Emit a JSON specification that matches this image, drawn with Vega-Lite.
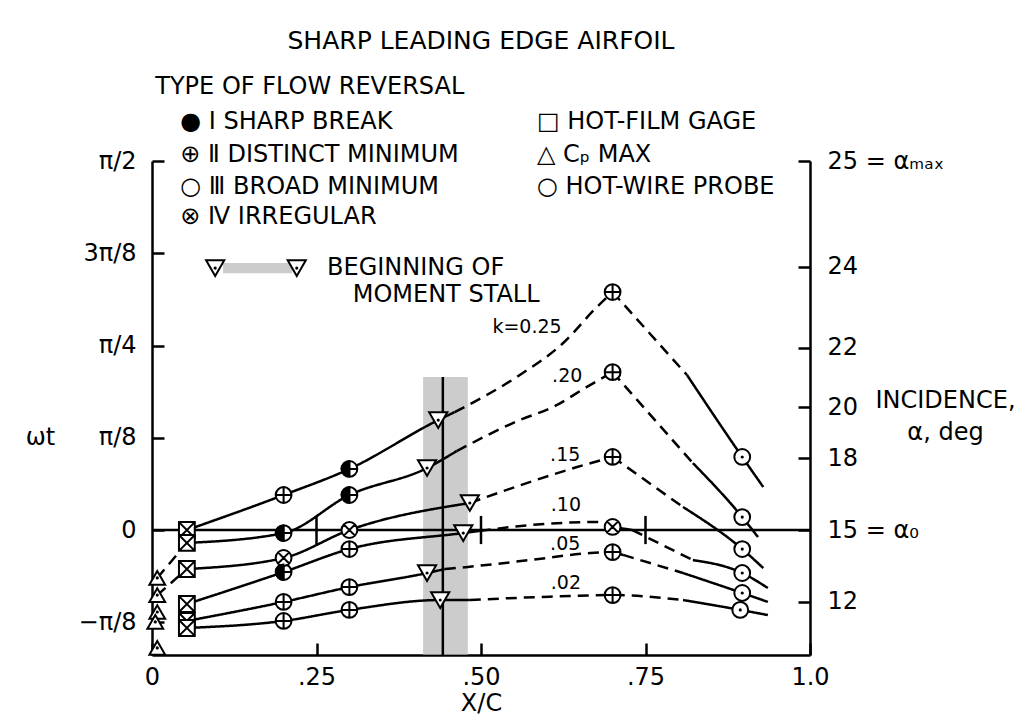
{
  "$schema": "https://vega.github.io/schema/vega-lite/v6.json",
  "width": 658,
  "height": 494,
  "autosize": {"type": "none"},
  "padding": {"left": 152, "top": 161, "right": 215, "bottom": 68},
  "config": {
    "font": "DejaVu Sans",
    "view": {"stroke": null},
    "axis": {
      "grid": false,
      "domainColor": "black",
      "tickColor": "black",
      "labelColor": "black",
      "titleColor": "black",
      "domainWidth": 2.5,
      "tickWidth": 2.5,
      "labelFontSize": 24,
      "titleFontSize": 24,
      "titleFontWeight": "normal",
      "labelFont": "DejaVu Sans",
      "titleFont": "DejaVu Sans"
    }
  },
  "title": {
    "text": "SHARP LEADING EDGE AIRFOIL",
    "fontSize": 25,
    "fontWeight": "normal",
    "color": "black",
    "offset": 21,
    "anchor": "middle"
  },
  "datasets": {
    "bands": [
      {"x": 0.412, "x2": 0.48, "y": 0.651, "y2": -0.532},
      {"x": 0.108, "x2": 0.213, "y": 1.137, "y2": 1.093}
    ],
    "hlines": [
      {"x": 0, "x2": 1, "y": 0}
    ],
    "vlines": [
      {"x": 0.442, "y": 0.651, "y2": -0.532},
      {"x": 0.25, "y": 0.06, "y2": -0.06},
      {"x": 0.5, "y": 0.06, "y2": -0.06},
      {"x": 0.75, "y": 0.06, "y2": -0.06}
    ],
    "curves": [
      {"seg": "25a", "style": "solid", "x": 0.053, "y": 0},
      {"seg": "25a", "style": "solid", "x": 0.2, "y": 0.149},
      {"seg": "25a", "style": "solid", "x": 0.3, "y": 0.26},
      {"seg": "25a", "style": "solid", "x": 0.435, "y": 0.468},
      {"seg": "25a", "style": "solid", "x": 0.46, "y": 0.502},
      {"seg": "25b", "style": "dashed", "x": 0.46, "y": 0.502},
      {"seg": "25b", "style": "dashed", "x": 0.559, "y": 0.66},
      {"seg": "25b", "style": "dashed", "x": 0.625, "y": 0.796},
      {"seg": "25b", "style": "dashed", "x": 0.676, "y": 0.949},
      {"seg": "25b", "style": "dashed", "x": 0.7, "y": 1.013},
      {"seg": "25c", "style": "dashed", "x": 0.7, "y": 1.013},
      {"seg": "25c", "style": "dashed", "x": 0.813, "y": 0.66},
      {"seg": "25d", "style": "solid", "x": 0.813, "y": 0.66},
      {"seg": "25d", "style": "solid", "x": 0.897, "y": 0.311},
      {"seg": "25d", "style": "solid", "x": 0.929, "y": 0.183},
      {"seg": "20a", "style": "solid", "x": 0.053, "y": -0.055},
      {"seg": "20a", "style": "solid", "x": 0.2, "y": -0.013},
      {"seg": "20a", "style": "solid", "x": 0.3, "y": 0.149},
      {"seg": "20a", "style": "solid", "x": 0.418, "y": 0.264},
      {"seg": "20a", "style": "solid", "x": 0.463, "y": 0.336},
      {"seg": "20b", "style": "dashed", "x": 0.463, "y": 0.336},
      {"seg": "20b", "style": "dashed", "x": 0.559, "y": 0.468},
      {"seg": "20b", "style": "dashed", "x": 0.609, "y": 0.523},
      {"seg": "20b", "style": "dashed", "x": 0.661, "y": 0.609},
      {"seg": "20b", "style": "dashed", "x": 0.7, "y": 0.672},
      {"seg": "20c", "style": "dashed", "x": 0.7, "y": 0.672},
      {"seg": "20c", "style": "dashed", "x": 0.822, "y": 0.285},
      {"seg": "20d", "style": "solid", "x": 0.822, "y": 0.285},
      {"seg": "20d", "style": "solid", "x": 0.897, "y": 0.055},
      {"seg": "20d", "style": "solid", "x": 0.921, "y": -0.03},
      {"seg": "15a", "style": "solid", "x": 0.053, "y": -0.166},
      {"seg": "15a", "style": "solid", "x": 0.2, "y": -0.119},
      {"seg": "15a", "style": "solid", "x": 0.3, "y": 0.0},
      {"seg": "15a", "style": "solid", "x": 0.483, "y": 0.115},
      {"seg": "15b", "style": "dashed", "x": 0.483, "y": 0.115},
      {"seg": "15b", "style": "dashed", "x": 0.574, "y": 0.204},
      {"seg": "15b", "style": "dashed", "x": 0.646, "y": 0.268},
      {"seg": "15b", "style": "dashed", "x": 0.7, "y": 0.311},
      {"seg": "15c", "style": "dashed", "x": 0.7, "y": 0.311},
      {"seg": "15c", "style": "dashed", "x": 0.807, "y": 0.098},
      {"seg": "15d", "style": "solid", "x": 0.807, "y": 0.098},
      {"seg": "15d", "style": "solid", "x": 0.897, "y": -0.081},
      {"seg": "15d", "style": "solid", "x": 0.929, "y": -0.162},
      {"seg": "10a", "style": "solid", "x": 0.053, "y": -0.315},
      {"seg": "10a", "style": "solid", "x": 0.2, "y": -0.179},
      {"seg": "10a", "style": "solid", "x": 0.3, "y": -0.081},
      {"seg": "10a", "style": "solid", "x": 0.473, "y": -0.013},
      {"seg": "10a", "style": "solid", "x": 0.498, "y": -0.004},
      {"seg": "10b", "style": "dashed", "x": 0.498, "y": -0.004},
      {"seg": "10b", "style": "dashed", "x": 0.574, "y": 0.021},
      {"seg": "10b", "style": "dashed", "x": 0.676, "y": 0.034},
      {"seg": "10b", "style": "dashed", "x": 0.7, "y": 0.013},
      {"seg": "10c", "style": "solid", "x": 0.7, "y": 0.013},
      {"seg": "10c", "style": "solid", "x": 0.73, "y": 0.0},
      {"seg": "10d", "style": "dashed", "x": 0.73, "y": 0.0},
      {"seg": "10d", "style": "dashed", "x": 0.822, "y": -0.128},
      {"seg": "10e", "style": "solid", "x": 0.822, "y": -0.128},
      {"seg": "10e", "style": "solid", "x": 0.897, "y": -0.183},
      {"seg": "10e", "style": "solid", "x": 0.936, "y": -0.247},
      {"seg": "05a", "style": "solid", "x": 0.053, "y": -0.387},
      {"seg": "05a", "style": "solid", "x": 0.2, "y": -0.306},
      {"seg": "05a", "style": "solid", "x": 0.3, "y": -0.243},
      {"seg": "05a", "style": "solid", "x": 0.418, "y": -0.183},
      {"seg": "05a", "style": "solid", "x": 0.445, "y": -0.166},
      {"seg": "05b", "style": "dashed", "x": 0.445, "y": -0.166},
      {"seg": "05b", "style": "dashed", "x": 0.48, "y": -0.157},
      {"seg": "05b", "style": "dashed", "x": 0.574, "y": -0.128},
      {"seg": "05b", "style": "dashed", "x": 0.666, "y": -0.098},
      {"seg": "05b", "style": "dashed", "x": 0.7, "y": -0.094},
      {"seg": "05c", "style": "solid", "x": 0.7, "y": -0.094},
      {"seg": "05c", "style": "solid", "x": 0.716, "y": -0.106},
      {"seg": "05d", "style": "dashed", "x": 0.716, "y": -0.106},
      {"seg": "05d", "style": "dashed", "x": 0.807, "y": -0.183},
      {"seg": "05e", "style": "solid", "x": 0.807, "y": -0.183},
      {"seg": "05e", "style": "solid", "x": 0.897, "y": -0.268},
      {"seg": "05e", "style": "solid", "x": 0.936, "y": -0.306},
      {"seg": "02a", "style": "solid", "x": 0.053, "y": -0.417},
      {"seg": "02a", "style": "solid", "x": 0.2, "y": -0.387},
      {"seg": "02a", "style": "solid", "x": 0.3, "y": -0.34},
      {"seg": "02a", "style": "solid", "x": 0.438, "y": -0.298},
      {"seg": "02a", "style": "solid", "x": 0.483, "y": -0.298},
      {"seg": "02b", "style": "dashed", "x": 0.483, "y": -0.298},
      {"seg": "02b", "style": "dashed", "x": 0.59, "y": -0.285},
      {"seg": "02b", "style": "dashed", "x": 0.7, "y": -0.277},
      {"seg": "02b", "style": "dashed", "x": 0.807, "y": -0.298},
      {"seg": "02c", "style": "solid", "x": 0.807, "y": -0.298},
      {"seg": "02c", "style": "solid", "x": 0.894, "y": -0.34},
      {"seg": "02c", "style": "solid", "x": 0.936, "y": -0.362},
      {"seg": "t1", "style": "dashed", "x": 0.008, "y": -0.204},
      {"seg": "t1", "style": "dashed", "x": 0.053, "y": -0.055},
      {"seg": "t2", "style": "dashed", "x": 0.008, "y": -0.277},
      {"seg": "t2", "style": "dashed", "x": 0.053, "y": -0.166}
    ],
    "markers": [
      {"kind": "film", "x": 0.053, "y": 0},
      {"kind": "film", "x": 0.053, "y": -0.055},
      {"kind": "film", "x": 0.053, "y": -0.166},
      {"kind": "film", "x": 0.053, "y": -0.315},
      {"kind": "film", "x": 0.053, "y": -0.387},
      {"kind": "film", "x": 0.053, "y": -0.417},
      {"kind": "cpmax", "x": 0.008, "y": -0.204},
      {"kind": "cpmax", "x": 0.008, "y": -0.277},
      {"kind": "cpmax", "x": 0.008, "y": -0.349},
      {"kind": "cpmax", "x": 0.005, "y": -0.391},
      {"kind": "cpmax", "x": 0.008, "y": -0.502},
      {"kind": "distinct", "x": 0.2, "y": 0.149},
      {"kind": "distinct", "x": 0.3, "y": -0.081},
      {"kind": "distinct", "x": 0.2, "y": -0.306},
      {"kind": "distinct", "x": 0.3, "y": -0.243},
      {"kind": "distinct", "x": 0.2, "y": -0.387},
      {"kind": "distinct", "x": 0.3, "y": -0.34},
      {"kind": "distinct", "x": 0.7, "y": 1.013},
      {"kind": "distinct", "x": 0.7, "y": 0.672},
      {"kind": "distinct", "x": 0.7, "y": 0.311},
      {"kind": "distinct", "x": 0.7, "y": -0.094},
      {"kind": "distinct", "x": 0.7, "y": -0.277},
      {"kind": "half", "x": 0.3, "y": 0.26},
      {"kind": "half", "x": 0.2, "y": -0.013},
      {"kind": "half", "x": 0.3, "y": 0.149},
      {"kind": "half", "x": 0.2, "y": -0.179},
      {"kind": "irregular", "x": 0.2, "y": -0.119},
      {"kind": "irregular", "x": 0.3, "y": 0.0},
      {"kind": "irregular", "x": 0.7, "y": 0.013},
      {"kind": "wire", "x": 0.897, "y": 0.311},
      {"kind": "wire", "x": 0.897, "y": 0.055},
      {"kind": "wire", "x": 0.897, "y": -0.081},
      {"kind": "wire", "x": 0.897, "y": -0.183},
      {"kind": "wire", "x": 0.897, "y": -0.268},
      {"kind": "wire", "x": 0.894, "y": -0.34},
      {"kind": "stall", "x": 0.435, "y": 0.468},
      {"kind": "stall", "x": 0.418, "y": 0.264},
      {"kind": "stall", "x": 0.483, "y": 0.115},
      {"kind": "stall", "x": 0.473, "y": -0.013},
      {"kind": "stall", "x": 0.418, "y": -0.183},
      {"kind": "stall", "x": 0.438, "y": -0.298},
      {"kind": "stall", "x": 0.096, "y": 1.115},
      {"kind": "stall", "x": 0.22, "y": 1.115}
    ],
    "labels": [
      {"role": "legend", "text": "TYPE OF FLOW REVERSAL", "x": 0.005, "y": 1.885},
      {"role": "legend", "text": "● Ⅰ SHARP BREAK", "x": 0.043, "y": 1.736},
      {"role": "legend", "text": "⊕ Ⅱ DISTINCT  MINIMUM", "x": 0.043, "y": 1.596},
      {"role": "legend", "text": "○ Ⅲ BROAD MINIMUM", "x": 0.043, "y": 1.46},
      {"role": "legend", "text": "⊗ Ⅳ IRREGULAR", "x": 0.043, "y": 1.332},
      {"role": "legend", "text": "□ HOT-FILM GAGE", "x": 0.585, "y": 1.736},
      {"role": "legend", "text": "△ Cₚ MAX", "x": 0.585, "y": 1.596},
      {"role": "legend", "text": "○ HOT-WIRE PROBE", "x": 0.585, "y": 1.46},
      {"role": "legend", "text": "BEGINNING OF", "x": 0.266, "y": 1.115},
      {"role": "legend", "text": "MOMENT STALL", "x": 0.305, "y": 1.0},
      {"role": "k", "text": "k=0.25", "x": 0.57, "y": 0.864},
      {"role": "k", "text": ".20", "x": 0.631, "y": 0.655},
      {"role": "k", "text": ".15", "x": 0.628, "y": 0.319},
      {"role": "k", "text": ".10", "x": 0.629, "y": 0.106},
      {"role": "k", "text": ".05", "x": 0.628, "y": -0.06},
      {"role": "k", "text": ".02", "x": 0.629, "y": -0.226}
    ]
  },
  "encoding": {
    "x": {
      "field": "x",
      "type": "quantitative",
      "scale": {"domain": [0, 1], "nice": false, "zero": false},
      "axis": {
        "values": [0, 0.25, 0.5, 0.75, 1],
        "labelExpr": "datum.value == 0 ? '0' : datum.value == 1 ? '1.0' : datum.value == 0.25 ? '.25' : datum.value == 0.5 ? '.50' : '.75'",
        "tickSize": -12,
        "labelPadding": 22,
        "labelFlush": false,
        "labelOverlap": false,
        "title": "X/C",
        "titlePadding": 2
      }
    }
  },
  "resolve": {"scale": {"y": "independent"}},
  "layer": [
    {
      "data": {"name": "bands"},
      "mark": {"type": "rect", "fill": "#b0b0b0", "opacity": 0.65},
      "encoding": {
        "x2": {"field": "x2"},
        "y": {"field": "y", "type": "quantitative", "scale": {"domain": [-0.532, 1.5708], "nice": false, "zero": false}, "axis": null},
        "y2": {"field": "y2"}
      }
    },
    {
      "data": {"name": "hlines"},
      "mark": {"type": "rule", "color": "black", "strokeWidth": 2.5},
      "encoding": {
        "x2": {"field": "x2"},
        "y": {
          "field": "y",
          "type": "quantitative",
          "scale": {"domain": [-0.532, 1.5708], "nice": false, "zero": false},
          "axis": {
            "orient": "left",
            "values": [-0.392699, 0, 0.392699, 0.785398, 1.178097, 1.570796],
            "labelExpr": "datum.value < -0.3 ? '−π/8' : datum.value < 0.1 ? '0' : datum.value < 0.5 ? 'π/8' : datum.value < 0.9 ? 'π/4' : datum.value < 1.3 ? '3π/8' : 'π/2'",
            "tickSize": -12,
            "labelPadding": 28,
            "labelFlush": false,
            "labelOverlap": false,
            "title": "ωt",
            "titleAngle": 0,
            "titleX": -112,
            "titleY": 276,
            "titleAlign": "center",
            "titleBaseline": "middle"
          }
        }
      }
    },
    {
      "data": {"name": "vlines"},
      "mark": {"type": "rule", "color": "black", "strokeWidth": 2.5},
      "encoding": {
        "y": {"field": "y", "type": "quantitative", "scale": {"domain": [-0.532, 1.5708], "nice": false, "zero": false}, "axis": null},
        "y2": {"field": "y2"}
      }
    },
    {
      "data": {"name": "curves"},
      "mark": {"type": "line", "color": "black", "strokeWidth": 2.5, "interpolate": "monotone"},
      "encoding": {
        "y": {
          "field": "y",
          "type": "quantitative",
          "scale": {"domain": [-0.532, 1.5708], "nice": false, "zero": false},
          "axis": {
            "orient": "right",
            "values": [-0.304693, 0, 0.304693, 0.523599, 0.775397, 1.11977, 1.570796],
            "labelExpr": "datum.value < -0.2 ? '12' : datum.value < 0.1 ? '15  = α₀' : datum.value < 0.4 ? '18' : datum.value < 0.6 ? '20' : datum.value < 0.9 ? '22' : datum.value < 1.3 ? '24' : '25  = αₘₐₓ'",
            "tickSize": -12,
            "labelPadding": 29,
            "labelFlush": false,
            "labelOverlap": false,
            "title": ["INCIDENCE,", "α, deg"],
            "titleAngle": 0,
            "titleX": 135,
            "titleY": 239,
            "titleAlign": "center",
            "titleBaseline": "middle",
            "titleLineHeight": 32
          }
        },
        "detail": {"field": "seg", "type": "nominal"},
        "strokeDash": {"field": "style", "type": "nominal", "scale": {"domain": ["solid", "dashed"], "range": [[1, 0], [11, 7]]}, "legend": null}
      }
    },
    {
      "data": {"name": "markers"},
      "transform": [{"filter": "datum.kind != 'stall'"}],
      "mark": {"type": "point", "filled": true, "stroke": "black", "strokeWidth": 2, "size": 250, "opacity": 1},
      "encoding": {
        "y": {"field": "y", "type": "quantitative", "scale": {"domain": [-0.532, 1.5708], "nice": false, "zero": false}, "axis": null},
        "shape": {
          "field": "kind",
          "type": "nominal",
          "scale": {
            "domain": ["film", "distinct", "half", "irregular", "wire", "cpmax"],
            "range": [
              "M-1,-1H1V1H-1Z M-1,-1L1,1 M1,-1L-1,1",
              "M-1,0A1,1,0,1,0,1,0A1,1,0,1,0,-1,0Z M-1,0H1 M0,-1V1",
              "M-1,0A1,1,0,1,0,1,0A1,1,0,1,0,-1,0Z M-1,0H1 M0,-1V1",
              "M-1,0A1,1,0,1,0,1,0A1,1,0,1,0,-1,0Z M-0.707,-0.707L0.707,0.707 M0.707,-0.707L-0.707,0.707",
              "circle",
              "triangle-up"
            ]
          },
          "legend": null
        },
        "fill": {
          "field": "kind",
          "type": "nominal",
          "scale": {
            "domain": ["film", "distinct", "half", "irregular", "wire", "cpmax"],
            "range": ["white", "white", "white", "white", "white", "white"]
          },
          "legend": null
        }
      }
    },
    {
      "data": {"name": "markers"},
      "transform": [{"filter": "datum.kind == 'half'"}],
      "mark": {"type": "point", "shape": "M0,-1A1,1,0,0,0,0,1Z", "filled": true, "fill": "black", "stroke": "black", "strokeWidth": 1.5, "size": 250, "opacity": 1},
      "encoding": {
        "y": {"field": "y", "type": "quantitative", "scale": {"domain": [-0.532, 1.5708], "nice": false, "zero": false}, "axis": null}
      }
    },
    {
      "data": {"name": "markers"},
      "transform": [{"filter": "datum.kind == 'stall'"}],
      "mark": {"type": "point", "shape": "triangle-down", "filled": true, "fill": "white", "stroke": "black", "strokeWidth": 2, "size": 330, "opacity": 1},
      "encoding": {
        "y": {"field": "y", "type": "quantitative", "scale": {"domain": [-0.532, 1.5708], "nice": false, "zero": false}, "axis": null}
      }
    },
    {
      "data": {"name": "markers"},
      "transform": [{"filter": "datum.kind == 'wire' || datum.kind == 'cpmax' || datum.kind == 'stall'"}],
      "mark": {"type": "point", "shape": "circle", "filled": true, "color": "black", "size": 10, "opacity": 1},
      "encoding": {
        "y": {"field": "y", "type": "quantitative", "scale": {"domain": [-0.532, 1.5708], "nice": false, "zero": false}, "axis": null}
      }
    },
    {
      "data": {"name": "labels"},
      "transform": [{"filter": "datum.role == 'legend'"}],
      "mark": {"type": "text", "align": "left", "baseline": "middle", "fontSize": 24, "color": "black"},
      "encoding": {
        "y": {"field": "y", "type": "quantitative", "scale": {"domain": [-0.532, 1.5708], "nice": false, "zero": false}, "axis": null},
        "text": {"field": "text"}
      }
    },
    {
      "data": {"name": "labels"},
      "transform": [{"filter": "datum.role == 'k'"}],
      "mark": {"type": "text", "align": "center", "baseline": "middle", "fontSize": 19, "color": "black"},
      "encoding": {
        "y": {"field": "y", "type": "quantitative", "scale": {"domain": [-0.532, 1.5708], "nice": false, "zero": false}, "axis": null},
        "text": {"field": "text"}
      }
    }
  ]
}
